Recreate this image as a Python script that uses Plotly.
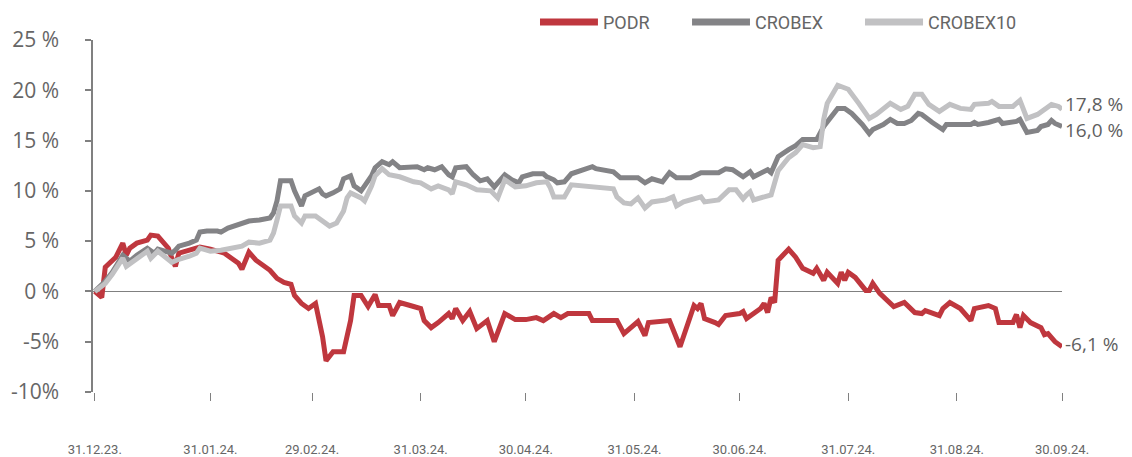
import pandas as pd
import plotly.graph_objects as go

start = pd.Timestamp("2023-12-29")

# day offsets from start date and % change values
podr_days = [0, 2, 3, 6, 8, 9, 10, 12, 15, 16, 18, 21, 22, 23, 24, 27, 29, 30, 33, 35, 37, 39, 41, 42, 44, 46, 48, 50, 52, 54,
             56, 57, 59, 61, 63, 64, 65, 66, 68, 71, 72, 73, 74, 76, 78, 80, 81, 84, 85, 87, 90, 93, 94, 96, 98, 101, 102, 103,
             105, 107, 109, 112, 114, 117, 120, 123, 126, 128, 131, 133, 135, 141, 142, 149, 151, 155, 157, 158, 164, 167, 171,
             172, 173, 174, 177, 178, 180, 184, 185, 186, 190, 191, 192, 193, 194, 195, 198, 200, 202, 205, 206, 208, 209, 212,
             213, 214, 215, 217, 220, 221, 222, 224, 228, 231, 234, 236, 237, 241, 242, 244, 247, 250, 251, 255, 257, 258, 262,
             263, 264, 265, 267, 270, 271, 272, 274, 276]
podr_vals = [0, -0.6, 2.4, 3.4, 4.8, 3.6, 4.3, 4.8, 5.1, 5.6, 5.5, 4.3, 3.3, 2.5, 3.8, 4.1, 4.4, 4.4, 4.2, 4.0, 3.8, 3.3, 2.8,
             2.2, 3.9, 3.1, 2.6, 2.1, 1.3, 0.9, 0.7, -0.4, -1.2, -1.7, -1.2, -2.6, -4.5, -6.9, -6.0, -6.0, -4.5, -2.9, -0.4,
             -0.4, -1.5, -0.3, -1.4, -1.4, -2.4, -1.1, -1.4, -1.7, -2.9, -3.6, -3.1, -2.2, -2.7, -1.7, -2.9, -2.0, -3.7, -2.9,
             -5.0, -2.2, -2.8, -2.8, -2.6, -2.9, -2.2, -2.6, -2.2, -2.2, -2.9, -2.9, -4.2, -3.0, -4.4, -3.1, -2.9, -5.5, -1.4,
             -1.7, -1.2, -2.7, -3.1, -3.3, -2.4, -2.2, -2.0, -2.7, -1.7, -1.2, -2.1, -0.6, -1.1, 3.1, 4.2, 3.4, 2.3, 1.8, 2.3,
             1.1, 1.9, 0.8, 1.9, 1.1, 1.9, 1.4, 0.1, 0.1, 0.8, -0.2, -1.5, -1.1, -2.1, -2.2, -1.9, -2.4, -1.7, -1.1, -1.7,
             -2.9, -1.7, -1.4, -1.7, -3.1, -3.1, -2.3, -3.6, -2.4, -3.1, -3.6, -4.3, -4.2, -5.0, -5.5]

crobex_days = [0, 3, 5, 8, 10, 12, 15, 17, 18, 22, 23, 24, 27, 29, 30, 32, 35, 36, 38, 40, 42, 44, 47, 50, 51, 52, 53, 56, 57,
               59, 60, 62, 64, 65, 66, 68, 70, 71, 73, 74, 76, 77, 79, 80, 82, 84, 85, 87, 90, 92, 94, 95, 97, 99, 101, 102,
               103, 106, 108, 110, 112, 114, 117, 119, 121, 122, 125, 128, 129, 131, 132, 134, 136, 139, 142, 143, 148, 150,
               155, 157, 159, 162, 164, 166, 170, 173, 178, 180, 182, 185, 187, 188, 191, 192, 193, 195, 198, 200, 202, 204,
               206, 208, 210, 212, 214, 216, 219, 221, 222, 225, 227, 229, 231, 233, 235, 236, 239, 242, 243, 245, 250, 251,
               252, 255, 258, 259, 263, 264, 266, 269, 270, 272, 273, 274, 276]
crobex_vals = [0, 1.0, 1.9, 3.6, 3.0, 3.6, 4.3, 3.8, 4.2, 3.8, 4.1, 4.5, 4.8, 5.1, 5.9, 6.0, 6.0, 5.9, 6.3, 6.5, 6.8, 7.0,
               7.1, 7.3, 7.8, 9.0, 11.0, 11.0, 10.0, 8.5, 9.5, 9.8, 10.2, 9.7, 9.5, 9.8, 10.2, 11.2, 11.5, 10.5, 10.0, 10.5,
               11.5, 12.3, 12.9, 12.6, 12.9, 12.3, 12.3, 12.4, 12.1, 12.3, 12.1, 12.4, 11.6, 11.4, 12.3, 12.4, 11.6, 11.0,
               11.2, 10.4, 11.6, 11.1, 10.8, 11.4, 11.7, 11.7, 11.4, 11.1, 10.8, 10.9, 11.7, 12.0, 12.4, 12.2, 11.9, 11.3,
               11.3, 10.8, 11.2, 10.9, 11.8, 11.3, 11.3, 11.8, 11.8, 12.2, 12.1, 11.4, 11.9, 11.4, 11.9, 12.1, 11.8, 13.4,
               14.1, 14.5, 15.1, 15.1, 15.1, 16.4, 17.4, 18.2, 18.2, 17.7, 16.6, 15.7, 16.1, 16.6, 17.1, 16.7, 16.7, 17.0,
               17.7, 17.6, 16.8, 16.1, 16.6, 16.6, 16.6, 16.8, 16.6, 16.8, 17.1, 16.7, 16.9, 17.1, 15.8, 16.0, 16.4, 16.6,
               17.0, 16.7, 16.4]

crobex10_days = [0, 3, 5, 8, 9, 11, 13, 15, 16, 18, 22, 24, 27, 29, 30, 33, 36, 40, 42, 44, 47, 50, 51, 52, 53, 56, 57, 59,
                 60, 63, 65, 67, 69, 70, 71, 72, 73, 76, 77, 79, 80, 82, 84, 87, 91, 93, 96, 98, 101, 102, 103, 106, 109,
                 113, 115, 117, 120, 123, 126, 129, 130, 131, 134, 136, 140, 142, 148, 149, 151, 153, 155, 157, 159, 163,
                 165, 166, 168, 173, 174, 178, 181, 183, 185, 186, 187, 188, 191, 193, 195, 198, 200, 202, 205, 207, 208,
                 209, 212, 215, 218, 221, 223, 227, 230, 232, 234, 236, 238, 241, 244, 247, 250, 251, 255, 256, 258, 262,
                 264, 266, 269, 271, 273, 275, 276]
crobex10_vals = [0, 0.8, 1.7, 3.3, 2.5, 3.0, 3.5, 4.0, 3.3, 4.0, 2.9, 3.2, 3.5, 3.8, 4.3, 4.0, 4.1, 4.3, 4.5, 4.9, 4.8, 5.1,
                 5.8, 7.1, 8.5, 8.5, 7.5, 6.8, 7.5, 7.5, 7.0, 6.5, 6.8, 7.5, 8.0, 9.3, 9.8, 9.3, 9.0, 10.5, 11.5, 12.2, 11.6,
                 11.4, 10.9, 10.8, 10.2, 10.5, 10.1, 9.7, 10.9, 10.6, 10.1, 10.0, 9.3, 11.1, 10.4, 10.5, 10.8, 10.9, 10.3,
                 9.4, 9.4, 10.6, 10.5, 10.4, 10.2, 9.4, 8.8, 8.7, 9.3, 8.3, 8.9, 9.1, 9.4, 8.5, 8.9, 9.4, 8.9, 9.1, 10.1,
                 10.1, 9.2, 9.6, 9.9, 9.1, 9.4, 9.6, 12.0, 13.3, 13.8, 14.6, 14.3, 14.4, 17.1, 18.7, 20.5, 20.1, 18.7, 17.2,
                 17.6, 18.7, 18.1, 18.4, 19.6, 19.6, 18.6, 17.9, 18.6, 18.2, 18.1, 18.6, 18.7, 18.9, 18.4, 18.4, 19.0, 17.2,
                 17.6, 18.1, 18.6, 18.4, 18.1]

series_names = ["PODR", "CROBEX", "CROBEX10"]
end_labels = ["-6,1 %", "16,0 %", "17,8 %"]
x_tick_labels = ["31.12.23.", "31.01.24.", "29.02.24.", "31.03.24.", "30.04.24.", "31.05.24.",
                 "30.06.24.", "31.07.24.", "31.08.24.", "30.09.24."]
x_tick_dates = ["2023-12-29", "2024-01-31", "2024-02-29", "2024-03-31", "2024-04-30", "2024-05-31",
                "2024-06-30", "2024-07-31", "2024-08-31", "2024-09-30"]
y_tick_vals = [-10, -5, 0, 5, 10, 15, 20, 25]
y_tick_labels = ["-10%", "-5%", "0 %", "5 %", "10 %", "15 %", "20 %", "25 %"]

colors = ["#BF373E", "#838386", "#C1C1C3"]
label_shift = [3, -4, 5]
# legend layout in paper fractions (sample line start, sample line end)
legend_x = [(0.4613, 0.5211), (0.6182, 0.6780), (0.7967, 0.8566)]
legend_y = 1.051

fig = go.Figure()
for name, days, vals, col in zip(series_names,
                                 [podr_days, crobex_days, crobex10_days],
                                 [podr_vals, crobex_vals, crobex10_vals], colors):
    dates = [start + pd.Timedelta(days=d) for d in days]
    fig.add_trace(go.Scatter(x=dates, y=vals, name=name, mode="lines", showlegend=False,
                             line=dict(color=col, width=5)))

for days, vals, lab, sh in zip([podr_days, crobex_days, crobex10_days],
                               [podr_vals, crobex_vals, crobex10_vals], end_labels, label_shift):
    fig.add_annotation(x=start + pd.Timedelta(days=days[-1]), y=vals[-1], text=lab,
                       showarrow=False, xanchor="left", xshift=2, yshift=sh, borderpad=0,
                       font=dict(family="Open Sans", size=19, color="#5f5f5f"))

# legend drawn as sample lines + text
for name, col, (x0, x1) in zip(series_names, colors, legend_x):
    fig.add_shape(type="line", xref="paper", yref="paper", x0=x0, x1=x1, y0=legend_y, y1=legend_y,
                  line=dict(color=col, width=7))
    fig.add_annotation(xref="paper", yref="paper", x=x1, y=legend_y, text=name, showarrow=False,
                       xanchor="left", yanchor="middle", xshift=3,
                       font=dict(family="Roboto", size=18, color="#666666"))

fig.update_layout(
    width=1132, height=457,
    margin=dict(l=93, r=70, t=40, b=65, autoexpand=False),
    paper_bgcolor="white", plot_bgcolor="white",
    font=dict(family="Roboto", color="#666666"),
    showlegend=False,
)
fig.update_xaxes(type="date", range=["2023-12-28 12:00", "2024-09-30"],
                 tickvals=x_tick_dates, ticktext=x_tick_labels,
                 ticks="outside", ticklen=8, tickcolor="#808080", tickwidth=1,
                 showline=False, showgrid=False, zeroline=False,
                 tickfont=dict(family="Roboto", size=13, color="#666666"), ticklabelstandoff=37)
fig.update_yaxes(range=[-10, 25], tickvals=y_tick_vals, ticktext=y_tick_labels,
                 ticks="outside", ticklen=6, tickcolor="#808080", tickwidth=1.5,
                 showline=True, linecolor="#808080", linewidth=1.5,
                 showgrid=False, zeroline=True, zerolinecolor="#808080", zerolinewidth=1.2,
                 tickfont=dict(family="Open Sans", size=21, color="#666666"), ticklabelstandoff=22)

fig.write_html("out.html", config={"displayModeBar": False},
               post_script="document.body.style.margin='0';")
